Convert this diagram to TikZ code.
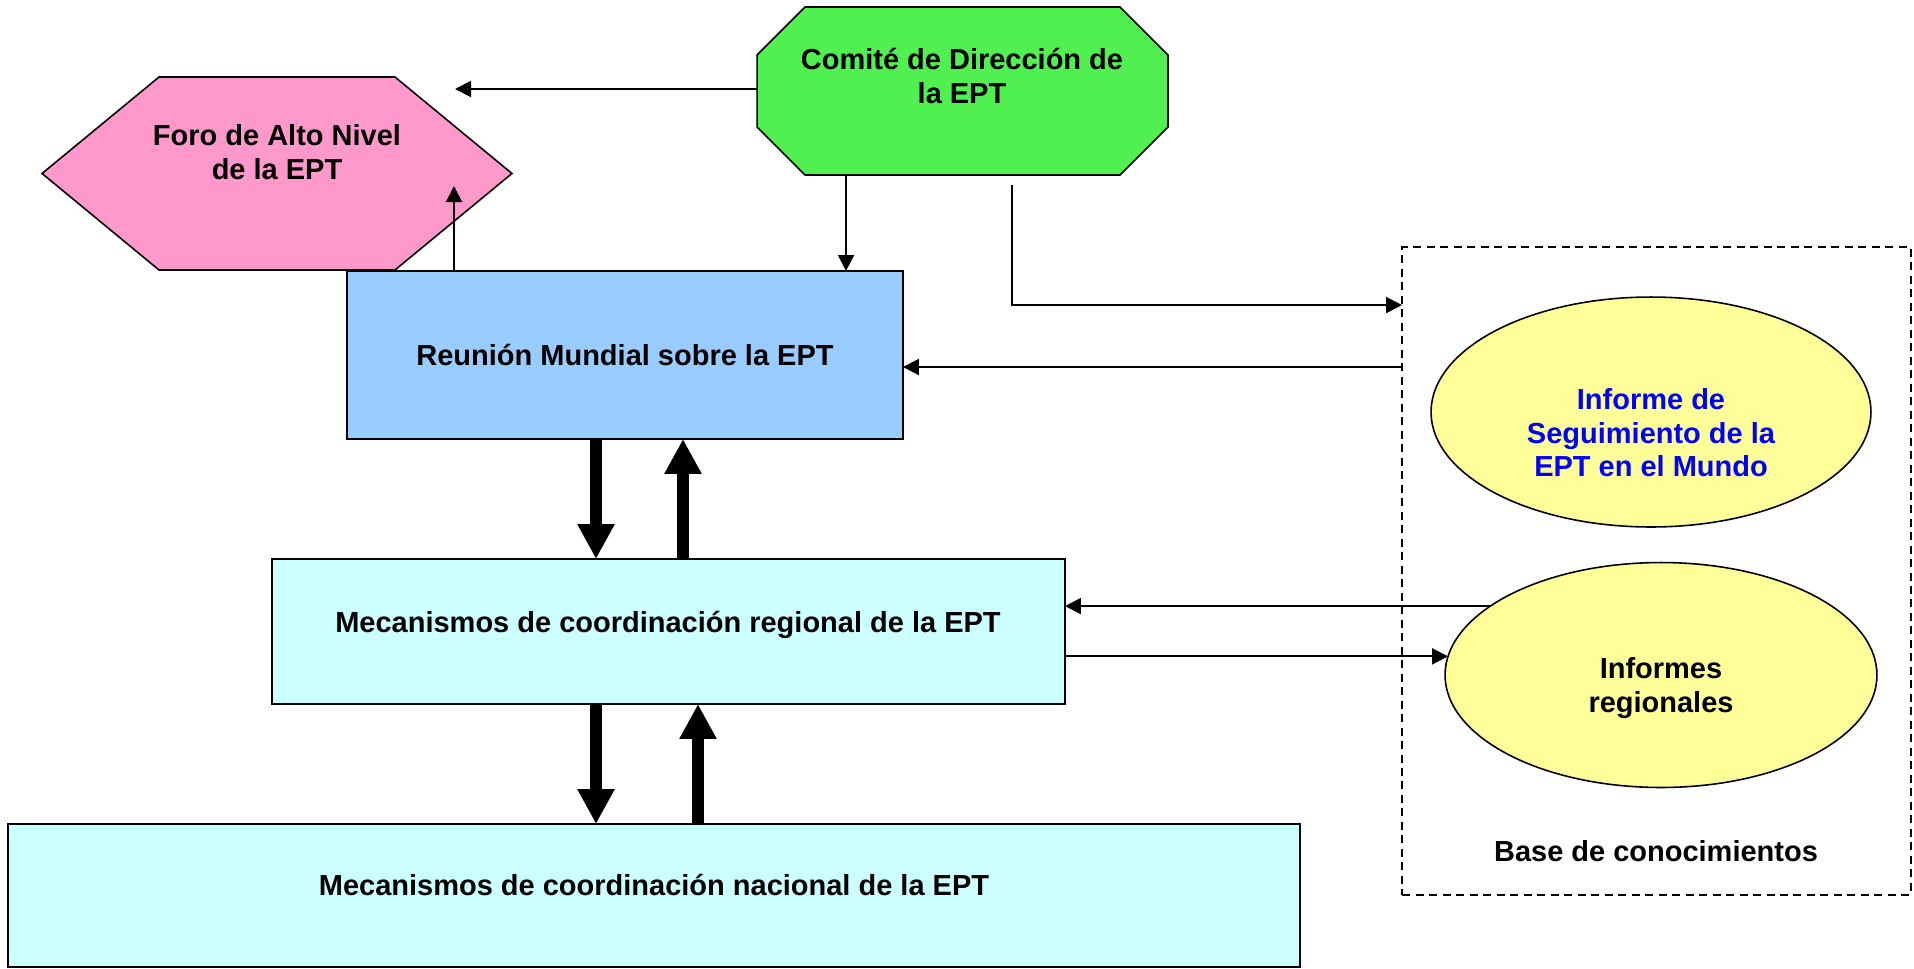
\documentclass[tikz,border=0pt]{standalone}
\usepackage{fontspec}
\setmainfont{Liberation Sans}
\usetikzlibrary{arrows.meta}
\usetikzlibrary{positioning}
\usetikzlibrary{shapes.geometric}
\usetikzlibrary{calc}
\definecolor{foropink}{HTML}{FF99CC}
\definecolor{comitegreen}{RGB}{80,240,80}
\definecolor{reunionblue}{HTML}{99CCFF}
\definecolor{mecancyan}{HTML}{CCFFFF}
\definecolor{informeyellow}{HTML}{FFFF99}
\definecolor{informeblue}{HTML}{0000FF}

\begin{document}
\begin{tikzpicture}[x=0.02cm, y=-0.02cm,
        box/.style={draw, line width=1pt, outer sep=0pt, inner sep=0pt},
        frame/.style={outer sep=0pt, inner sep=0pt},
        oval/.style={draw, ellipse, line width=0.9pt, fill=informeyellow,
            outer sep=0pt, inner sep=0pt},
        txt/.style={font=\fontsize{16.5}{19}\selectfont\bfseries,
            align=center, inner sep=0pt},
        line/.style={draw, line width=1.1pt,
            -{Triangle[length=0.32cm,width=0.32cm]}},
        bigarrow/.style={draw, line width=0.24cm,
            -{Triangle[length=0.7cm,width=0.7cm]}}]
    \useasboundingbox (0,0) rectangle (1914,968);
    %% Frames of the polygons
    \node [frame, minimum width=9.4cm, minimum height=3.86cm] at (277,173.5) (foro) {};
    \node [frame, minimum width=8.22cm, minimum height=3.36cm] at (962.5,91) (comite) {};
    \filldraw [fill=foropink, line width=0.9pt] (foro.west)
        -- ([xshift=2.34cm]foro.north west) -- ([xshift=-2.34cm]foro.north east)
        -- (foro.east) -- ([xshift=-2.34cm]foro.south east)
        -- ([xshift=2.34cm]foro.south west) -- cycle;
    \filldraw [fill=comitegreen, line width=0.9pt]
        ([xshift=0.96cm]comite.north west) -- ([xshift=-0.96cm]comite.north east)
        -- ([yshift=-0.96cm]comite.north east) -- ([yshift=0.96cm]comite.south east)
        -- ([xshift=-0.96cm]comite.south east) -- ([xshift=0.96cm]comite.south west)
        -- ([yshift=0.96cm]comite.south west) -- ([yshift=-0.96cm]comite.north west)
        -- cycle;
    \node [txt] at (277,152) (forotext) {Foro de Alto Nivel\\de la EPT};
    \node [txt] at (962,76) (comitetext) {Comité de Dirección de\\la EPT};
    %% Boxes
    \node [box, fill=reunionblue, minimum width=11.12cm, minimum height=3.36cm,
        txt] at (625,355) (reunion) {Reunión Mundial sobre la EPT};
    \node [box, fill=mecancyan, minimum width=15.86cm, minimum height=2.9cm]
        at (668.5,631.5) (regional) {};
    \node [txt] at (668,625) (regionaltext) {Mecanismos de coordinación regional de la EPT};
    \node [box, fill=mecancyan, line width=1.4pt, minimum width=25.84cm,
        minimum height=2.86cm] at (654,895.5) (nacional) {};
    \node [txt] at (654,885) (nacionaltext) {Mecanismos de coordinación nacional de la EPT};
    %% Knowledge base
    \node [frame, draw, line width=0.85pt, dash pattern=on 0.16cm off 0.11cm,
        minimum width=10.18cm, minimum height=12.96cm] at (1656.5,571) (base) {};
    \node [oval, minimum width=8.8cm, minimum height=4.6cm] at (1651,412) (informe) {};
    \node [txt, text=informeblue] at (1651,433) (informetext)
        {Informe de\\Seguimiento de la\\EPT en el Mundo};
    \node [oval, minimum width=8.64cm, minimum height=4.5cm] at (1661,675) (regionales) {};
    \node [txt] at (1661,688) (regionalestext) {Informes\\regionales};
    \node [txt] at (1656,851) (basetext) {Base de conocimientos};
    %% Arcs
    \coordinate (foroin) at (455,89);
    \coordinate (foroup) at (454,186);
    \path [line] (comite.west |- foroin) -- (foroin);
    \path [line] (reunion.north -| foroup) -- (foroup);
    \path [line] ([xshift=-2.33cm]comite.south) -- ([xshift=-2.33cm]comite.south |- reunion.north);
    \path [line] ([xshift=0.99cm,yshift=-0.2cm]comite.south) |- ([yshift=-1.16cm]base.north west);
    \path [line] ($(reunion.east -| base.west)+(0,12)$) -- ($(reunion.east)+(0,12)$);
    \path [line] (regionales.158) -- (regionales.158 -| regional.east);
    \path [line] (regional.east |- regionales.175) -- (regionales.175);
    %% Thick arrows
    \path [bigarrow] ([xshift=-0.58cm]reunion.south) -- ([xshift=-0.58cm]reunion.south |- regional.north);
    \path [bigarrow] ([xshift=1.16cm]reunion.south |- regional.north) -- ([xshift=1.16cm]reunion.south);
    \path [bigarrow] ([xshift=-1.45cm]regional.south) -- ([xshift=-1.45cm]regional.south |- nacional.north);
    \path [bigarrow] ([xshift=0.59cm]regional.south |- nacional.north) -- ([xshift=0.59cm]regional.south);
\end{tikzpicture}
\end{document}
